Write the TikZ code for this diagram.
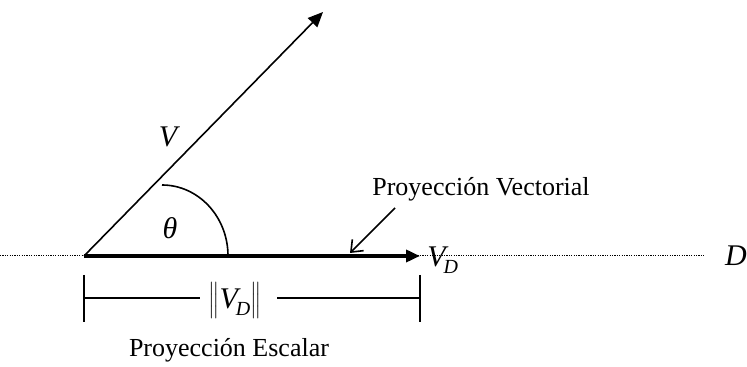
\documentclass[tikz,border=0pt]{standalone}
\usepackage{fontspec}
\setmainfont{Liberation Serif}
\usetikzlibrary{arrows.meta}

\newcommand{\vsubd}{\textit{V}\kern-1pt\raisebox{-3.5pt}{\fontsize{10}{11}\selectfont\textit{D}}}

\tikzset{
    vec/.style={line width=0.8pt,-{Triangle[length=7.5pt,width=6.5pt]}},
    projvec/.style={line width=2pt,-{Triangle[length=7pt,width=6pt]}},
    pointer/.style={line width=0.8pt,-{Straight Barb[length=5pt,width=8pt]}},
    axisline/.style={line width=0.5pt,dash pattern=on 0.6pt off 0.6pt},
    ruleline/.style={line width=0.8pt},
    letter/.style={font=\fontsize{15}{17}\selectfont\itshape}
}

\begin{document}
\begin{tikzpicture}[x=0.5pt,y=0.5pt,font=\fontsize{13}{15}\selectfont]
            \useasboundingbox (-84,-111) rectangle (663,256);
            \coordinate (O) at (0,0);
            \coordinate (dl) at (-84,0);
            \coordinate (dr) at (621,0);
            \coordinate (vtip) at (239,244);
            \coordinate (vdtip) at (336,0);

            % recta D
            \draw[axisline] (dl) -- (dr);
            \node[letter] (dlabel) at (652,0) {D};

            % vectores
            \draw[vec] (O) -- (vtip);
            \draw[projvec] (O) -- (vdtip);
            \node[letter] (vlabel) at (84,119) {V};
            \node[letter,anchor=base west,inner sep=0pt] (vdlabel) at (343,-11) {\vsubd};

            % angulo
            \draw[ruleline] (78,71) arc[start angle=90,end angle=0,x radius=66,y radius=71];
            \node[letter] (theta) at (86,28) {θ};

            % proyeccion vectorial
            \node[anchor=base] (pv) at (397,60) {Proyección Vectorial};
            \coordinate (pvs) at (311,48);
            \coordinate (pvt) at (266,3);
            \draw[pointer] (pvs) -- (pvt);

            % proyeccion escalar
            \coordinate (bl1) at (0,-19);
            \coordinate (bl2) at (0,-66);
            \coordinate (br1) at (336,-19);
            \coordinate (br2) at (336,-66);
            \coordinate (ml) at (0,-42);
            \coordinate (mr) at (336,-42);
            \node[letter] (norm) at (151,-45) {$\left\|\rule[-4.5pt]{0pt}{13pt}\mbox{\vsubd}\right\|$};
            \draw[ruleline] (bl1) -- (bl2);
            \draw[ruleline] (br1) -- (br2);
            \draw[ruleline] (ml) -- ++(116,0);
            \draw[ruleline] (mr) -- ++(-143,0);
            \node[anchor=base] (pe) at (145,-101) {Proyección Escalar};
\end{tikzpicture}
\end{document}
